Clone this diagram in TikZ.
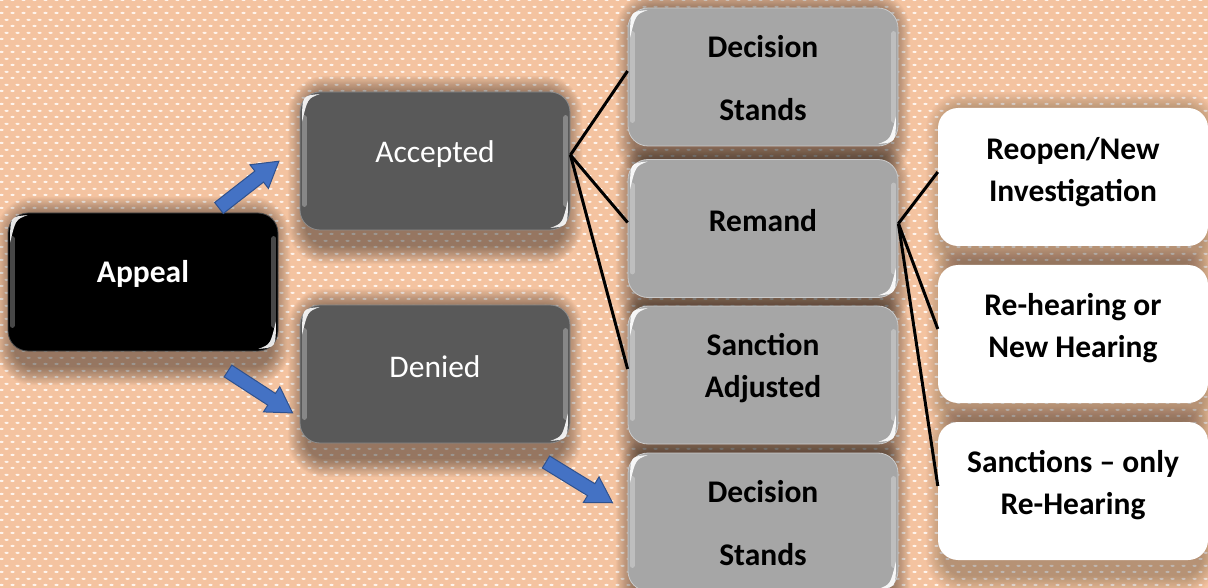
\documentclass[tikz,border=0pt]{standalone}
\usepackage{fontspec}
\setmainfont{Carlito}
\usetikzlibrary{patterns}

\definecolor{peach}{HTML}{F4C3A0}
\definecolor{peachdot}{HTML}{FFF4EC}
\definecolor{darkbox}{HTML}{595959}
\definecolor{midbox}{HTML}{A6A6A6}
\definecolor{arrowblue}{HTML}{4472C4}
\definecolor{arrowedge}{HTML}{2F528F}

% woven dot texture of the backdrop
\pgfdeclarepatternformonly{peachweave}{\pgfqpoint{0pt}{0pt}}{\pgfqpoint{11pt}{12.6pt}}{\pgfqpoint{11pt}{12.6pt}}{%
  \pgfpathellipse{\pgfqpoint{2.75pt}{3.15pt}}{\pgfqpoint{2.3pt}{0pt}}{\pgfqpoint{0pt}{1.1pt}}%
  \pgfpathellipse{\pgfqpoint{8.25pt}{9.45pt}}{\pgfqpoint{2.3pt}{0pt}}{\pgfqpoint{0pt}{1.1pt}}%
  \pgfusepath{fill}}

% soft shadow under a box: stacked translucent rounded rectangles
\newcommand\boxshadow[2]{% #1 node name, #2 opacity per layer
  \foreach \k in {0,...,15}{
    \fill[black, opacity=#2, rounded corners={20pt+\k*1.2pt}]
      ([xshift={6pt-\k*1.2pt}, yshift={-2pt+\k*1.2pt}]#1.north west) rectangle
      ([xshift={-6pt+\k*1.2pt}, yshift={-16pt-\k*1.2pt}]#1.south east);
  }}

% glossy bevel on a box
\newcommand\boxgloss[1]{%
  \draw[white, opacity=.28, line width=5pt, line cap=round]
    ([xshift=4.5pt,yshift=-26pt]#1.north west) -- ([xshift=4.5pt,yshift=26pt]#1.south west);
  \draw[white, opacity=.28, line width=5pt, line cap=round]
    ([xshift=-4.5pt,yshift=-26pt]#1.north east) -- ([xshift=-4.5pt,yshift=26pt]#1.south east);
  \fill[white, opacity=.9]
    ([xshift=2.5pt,yshift=-30pt]#1.north west) .. controls ([xshift=2.5pt,yshift=-4pt]#1.north west) .. ([xshift=20pt,yshift=-2.5pt]#1.north west)
    .. controls ([xshift=8pt,yshift=-7pt]#1.north west) .. cycle;
  \fill[white, opacity=.9]
    ([xshift=-2.5pt,yshift=30pt]#1.south east) .. controls ([xshift=-2.5pt,yshift=4pt]#1.south east) .. ([xshift=-20pt,yshift=2.5pt]#1.south east)
    .. controls ([xshift=-8pt,yshift=7pt]#1.south east) .. cycle;
}

\tikzset{
  box/.style={rounded corners=20pt, minimum width=270pt, minimum height=138pt, inner sep=0pt},
  blackbox/.style={box, fill=black, draw=black!70!white, line width=.8pt},
  darkgray/.style={box, fill=darkbox, draw=darkbox!70!white, line width=.8pt},
  lightgray/.style={box, fill=midbox, draw=midbox!60!white, line width=.8pt},
  whitebox/.style={box, fill=white, draw=none},
  lbl/.style={font=\fontsize{31.5}{42}\selectfont, align=center, inner sep=0pt},
  boldlbl/.style={lbl, font=\fontsize{31.5}{42}\selectfont\bfseries},
  fanline/.style={line width=3pt, black},
  blockarrow/.style={fill=arrowblue, draw=arrowedge, line width=1pt, line join=miter}
}

\begin{document}
\begin{tikzpicture}[x=1pt,y=-1pt]
\useasboundingbox (0,0) rectangle (1208,588);
\clip (0,0) rectangle (1208,588);
\fill[peach] (0,0) rectangle (1208,588);
\fill[pattern=peachweave, pattern color=peachdot] (0,0) rectangle (1208,588);

% anchors for the boxes (shadows first, boxes on top)
\coordinate (appeal-c) at (143,282);
\coordinate (acc-c)    at (435,161);
\coordinate (den-c)    at (435,374);
\coordinate (ds1-c)    at (763,77);
\coordinate (rem-c)    at (763,228.5);
\coordinate (sad-c)    at (763,375);
\coordinate (ds2-c)    at (763,522);
\coordinate (reo-c)    at (1073,177);
\coordinate (reh-c)    at (1073,334);
\coordinate (snc-c)    at (1073,491);

\foreach \b in {appeal,acc,den,ds1,rem,sad,ds2,reo,reh,snc}{
  \path (\b-c) node[box, name=\b-s] {};
}
\foreach \b in {appeal,acc,den,ds1,rem,sad,ds2}{\boxshadow{\b-s}{0.028}}
\foreach \b in {reo,reh,snc}{\boxshadow{\b-s}{0.016}}

% boxes
\node[blackbox]  (appeal) at (appeal-c) {};
\node[darkgray]  (acc)    at (acc-c) {};
\node[darkgray]  (den)    at (den-c) {};
\node[lightgray] (ds1)    at (ds1-c) {};
\node[lightgray] (rem)    at (rem-c) {};
\node[lightgray] (sad)    at (sad-c) {};
\node[lightgray] (ds2)    at (ds2-c) {};
\node[whitebox]  (reo)    at (reo-c) {};
\node[whitebox]  (reh)    at (reh-c) {};
\node[whitebox]  (snc)    at (snc-c) {};

\foreach \b in {appeal,acc,den,ds1,rem,sad,ds2}{\boxgloss{\b}}

% captions
\node[boldlbl, text=white] (appeal-t) at ([yshift=8pt]appeal.center) {Appeal};
\node[lbl, text=white]     (acc-t)    at ([yshift=7pt]acc.center) {Accepted};
\node[lbl, text=white]     (den-t)    at ([yshift=7pt]den.center) {Denied};
\node[boldlbl]             (ds1-t)    at ([yshift=-1pt]ds1.center) {Decision\\[21pt]Stands};
\node[boldlbl]             (rem-t)    at ([yshift=8pt]rem.center) {Remand};
\node[boldlbl]             (sad-t)    at ([yshift=7pt]sad.center) {Sanction\\Adjusted};
\node[boldlbl]             (ds2-t)    at ([yshift=-1pt]ds2.center) {Decision\\[21pt]Stands};
\node[boldlbl]             (reo-t)    at ([yshift=5pt]reo.center) {Reopen/New\\Investigation};
\node[boldlbl]             (reh-t)    at ([yshift=6pt]reh.center) {Re-hearing or\\New Hearing};
\node[boldlbl]             (snc-t)    at ([yshift=6pt]snc.center) {Sanctions – only\\Re-Hearing};

% fan connectors
\draw[fanline] ([yshift=6pt]acc.east) -- ([yshift=6pt]ds1.west);
\draw[fanline] ([yshift=6pt]acc.east) -- ([yshift=6pt]rem.west);
\draw[fanline] ([yshift=6pt]acc.east) -- ([yshift=6pt]sad.west);
\draw[fanline] ([yshift=5pt]rem.east) -- ([yshift=5pt]reo.west);
\draw[fanline] ([yshift=5pt]rem.east) -- ([yshift=5pt]reh.west);
\draw[fanline] ([yshift=5pt]rem.east) -- ([yshift=5pt]snc.west);

% block arrows
\begin{scope}[shift={(219,208)}, rotate=38]
  \draw[blockarrow] (0,-7) -- (51,-7) -- (51,-15) -- (76,0) -- (51,15) -- (51,7) -- (0,7) -- cycle;
\end{scope}
\begin{scope}[shift={(228,371)}, rotate=-33]
  \draw[blockarrow] (0,-7) -- (52,-7) -- (52,-15) -- (77,0) -- (52,15) -- (52,7) -- (0,7) -- cycle;
\end{scope}
\begin{scope}[shift={(546,462)}, rotate=-31.5]
  \draw[blockarrow] (0,-7) -- (53,-7) -- (53,-15) -- (78,0) -- (53,15) -- (53,7) -- (0,7) -- cycle;
\end{scope}
\end{tikzpicture}
\end{document}
